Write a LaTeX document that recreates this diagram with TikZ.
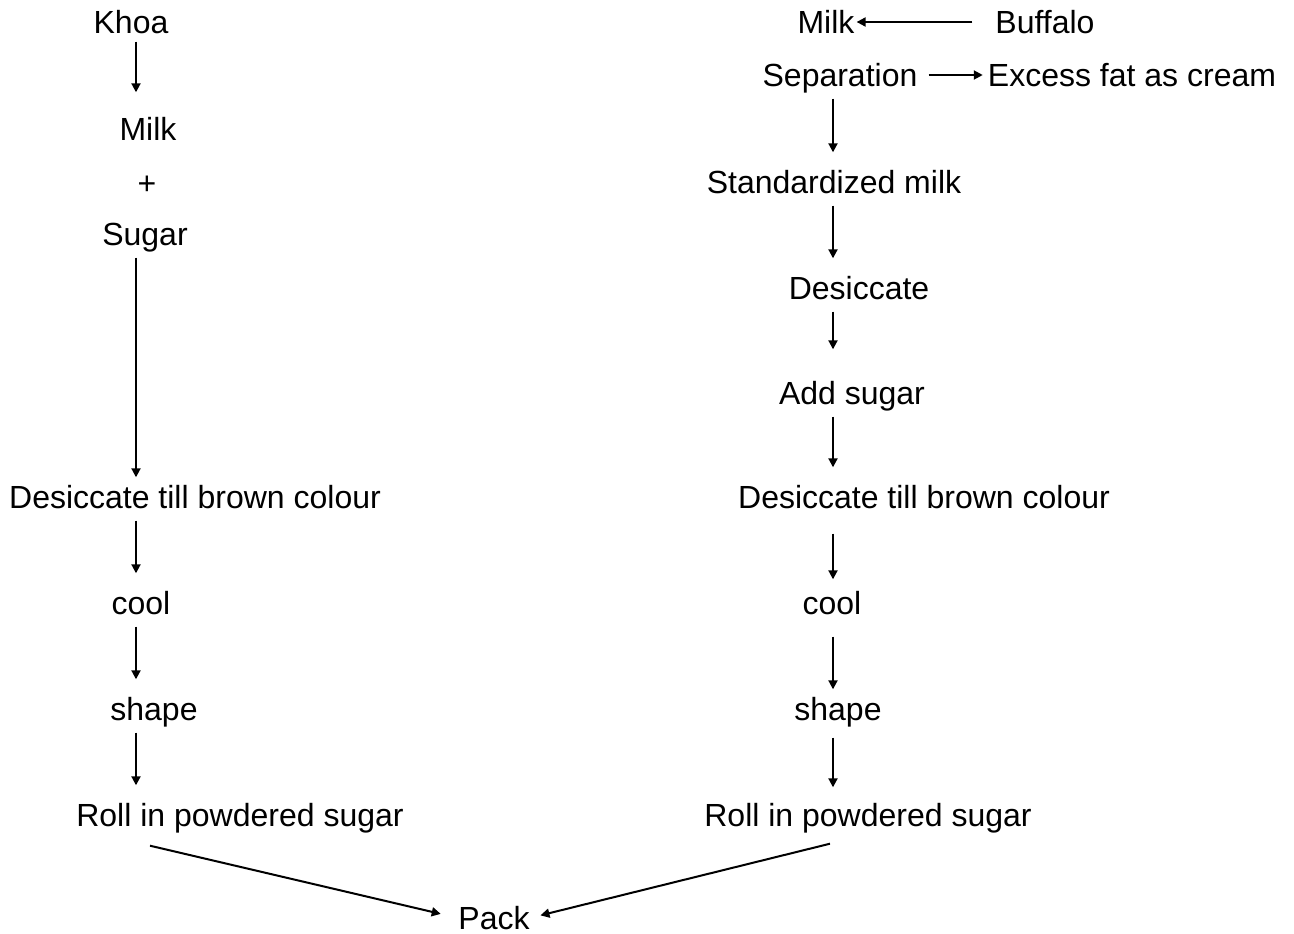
\documentclass[tikz,border=0pt]{standalone}
\usepackage{fontspec}
\setmainfont{Liberation Sans}
\usetikzlibrary{positioning,arrows.meta}

\begin{document}
\begin{tikzpicture}[x=1pt, y=1pt, node distance=106pt,
		main node/.style={inner sep=0pt, text height=23pt, text depth=0pt, font=\fontsize{32}{38}\selectfont},
		flow/.style={-{Triangle[length=9pt,width=9pt]}, line width=2pt, shorten <=12pt, shorten >=18pt}]

		\useasboundingbox (0,0) rectangle (1294,-934);

		% left column
		\node[main node] (khoa) at (131,-22) {Khoa};
		\node[main node] (lmilk) [node distance=107pt, below of=khoa, xshift=17pt] {Milk};
		\node[main node] (plus) [node distance=54pt, below of=lmilk, xshift=-1pt] {+};
		\node[main node] (sugar) [node distance=51pt, below of=plus, xshift=-2pt] {Sugar};
		\node[main node] (ldes) [node distance=263pt, below of=sugar, xshift=50pt] {Desiccate till brown colour};
		\node[main node] (lcool) [below of=ldes, xshift=-54pt] {cool};
		\node[main node] (lshape) [below of=lcool, xshift=13pt] {shape};
		\node[main node] (lroll) [below of=lshape, xshift=86pt] {Roll in powdered sugar};
		\node[main node] (pack) [node distance=103pt, below of=lroll, xshift=254pt] {Pack};

		% right column
		\node[main node] (rmilk) at (826,-22) {Milk};
		\node[main node] (buffalo) [node distance=219pt, right of=rmilk] {Buffalo};
		\node[main node] (sep) [node distance=53pt, below of=rmilk, xshift=14pt] {Separation};
		\node[main node] (cream) [node distance=292pt, right of=sep] {Excess fat as cream};
		\node[main node] (std) [node distance=107pt, below of=sep, xshift=-6pt] {Standardized milk};
		\node[main node] (rdes1) [below of=std, xshift=25pt] {Desiccate};
		\node[main node] (addsug) [node distance=105pt, below of=rdes1, xshift=-7pt] {Add sugar};
		\node[main node] (rdes) [node distance=104pt, below of=addsug, xshift=72pt] {Desiccate till brown colour};
		\node[main node] (rcool) [below of=rdes, xshift=-92pt] {cool};
		\node[main node] (rshape) [below of=rcool, xshift=6pt] {shape};
		\node[main node] (rroll) [below of=rshape, xshift=30pt] {Roll in powdered sugar};

		\coordinate (lx) at (136,0);
		\coordinate (rx) at (833,0);

		% left arrows
		\draw[flow, shorten <=8pt, shorten >=25pt] (khoa.south -| lx) -- (lmilk.north -| lx);
		\draw[flow, shorten >=8pt] (sugar.south -| lx) -- (ldes.north -| lx);
		\draw[flow] (ldes.south -| lx) -- (lcool.north -| lx);
		\draw[flow] (lcool.south -| lx) -- (lshape.north -| lx);
		\draw[flow] (lshape.south -| lx) -- (lroll.north -| lx);

		% right arrows
		\draw[flow, shorten <=23pt, shorten >=2pt] (buffalo.west) -- (rmilk.east);
		\draw[flow, shorten <=11pt, shorten >=5pt] (sep.east) -- (cream.west);
		\draw[flow] (sep.south -| rx) -- (std.north -| rx);
		\draw[flow] (std.south -| rx) -- (rdes1.north -| rx);
		\draw[flow, shorten >=32pt] (rdes1.south -| rx) -- (addsug.north -| rx);
		\draw[flow] (addsug.south -| rx) -- (rdes.north -| rx);
		\draw[flow, shorten <=25pt, shorten >=12pt] (rdes.south -| rx) -- (rcool.north -| rx);
		\draw[flow, shorten <=22pt, shorten >=8pt] (rcool.south -| rx) -- (rshape.north -| rx);
		\draw[flow, shorten <=17pt, shorten >=16pt] (rshape.south -| rx) -- (rroll.north -| rx);

		% to pack
		\draw[flow, shorten <=0pt, shorten >=18pt] ([xshift=-90pt,yshift=-19pt]lroll.south) -- (pack.west);
		\draw[flow, shorten <=0pt, shorten >=11pt] ([xshift=-38pt,yshift=-17pt]rroll.south) -- (pack.east);
\end{tikzpicture}
\end{document}
